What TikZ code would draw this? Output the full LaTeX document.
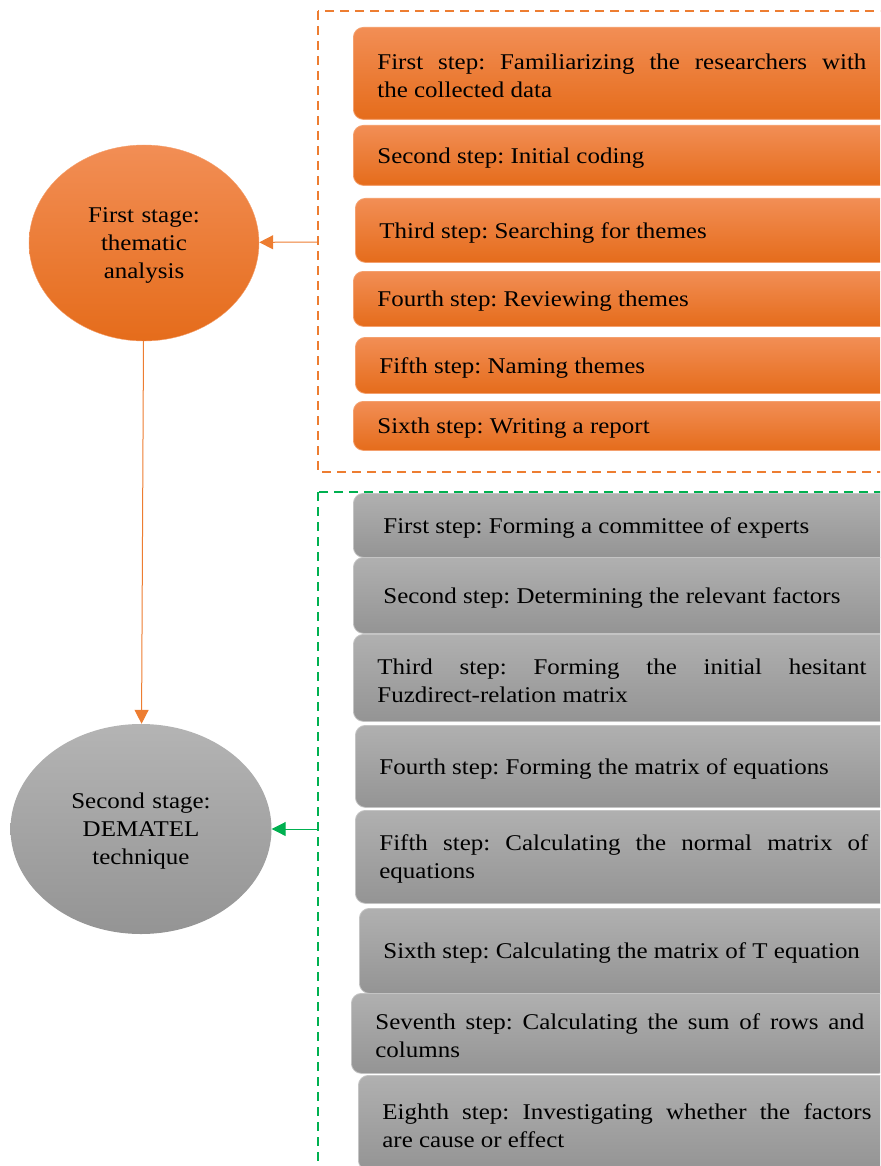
\documentclass[tikz,border=0pt]{standalone}
\usepackage{fontspec}
\setmainfont{Liberation Serif}[FakeStretch=1.11]
\usetikzlibrary{shapes.geometric,arrows.meta}
\definecolor{stageorange}{RGB}{237,125,49}
\definecolor{stagegreen}{RGB}{0,176,80}
\definecolor{orangetop}{RGB}{242,142,85}
\definecolor{orangebot}{RGB}{229,108,27}
\definecolor{orangeedge}{RGB}{244,160,110}
\definecolor{greytop}{RGB}{176,176,176}
\definecolor{greybot}{RGB}{148,148,148}
\definecolor{greyedge}{RGB}{196,196,196}
\frenchspacing
\begin{document}
\begin{tikzpicture}[x=1pt,y=-1pt]
        \tikzset{stepbox/.style = {rectangle, rounded corners=10pt, anchor=north west,
            text width=489pt, inner xsep=24pt, inner ysep=2pt, align=justify,
            font=\fontsize{22.5}{28}\selectfont, execute at end node={\par\vspace*{-5pt}}}}
        \tikzset{orangestep/.style = {stepbox, top color=orangetop, bottom color=orangebot, draw=orangeedge, line width=0.8pt}}
        \tikzset{greystep/.style = {stepbox, top color=greytop, bottom color=greybot, draw=greyedge, line width=0.8pt}}
        \tikzset{stage/.style = {ellipse, text width=150pt, inner sep=2pt, align=center, font=\fontsize{22.5}{28}\selectfont,
            execute at end node={\par\vspace*{-5pt}}}}
        \tikzset{link/.style = {line width=1pt, -{Triangle[length=14pt,width=14pt]}}}
        \useasboundingbox (0,0) rectangle (880,1166);
        \clip (0,0) rectangle (880,1166);
        % dashed frames
        \draw[stageorange, line width=2pt, dash pattern=on 9pt off 6pt] (318,11) rectangle (900,472);
        \draw[stagegreen, line width=2pt, dash pattern=on 9pt off 6pt] (318,492) rectangle (900,1190);
        \coordinate (thema) at (318,242);
        \coordinate (dema) at (318,829);
        % stages on the left
        \node[stage, minimum width=230pt, minimum height=196pt, top color=orangetop, bottom color=orangebot, draw=orangeedge] (s1) at (144,243) {First stage:\\thematic\\analysis};
        \node[stage, minimum width=261pt, minimum height=210pt, top color=greytop!95!white, bottom color=greybot] (s2) at (141,829) {Second stage:\\DEMATEL\\technique};
        % steps of the thematic analysis
        \node[orangestep, minimum height=92pt] (o1) at (353,27) {First step: Familiarizing the researchers with\linebreak the collected data};
        \node[orangestep, minimum height=60pt] (o2) at (353,125) {Second step: Initial coding};
        \node[orangestep, minimum height=64pt] (o3) at (355,198) {Third step: Searching for themes};
        \node[orangestep, minimum height=55pt] (o4) at (353,271) {Fourth step: Reviewing themes};
        \node[orangestep, minimum height=56pt] (o5) at (355,337) {Fifth step: Naming themes};
        \node[orangestep, minimum height=49pt] (o6) at (353,401) {Sixth step: Writing a report};
        % steps of the DEMATEL technique
        \node[greystep, minimum height=64pt, inner xsep=30pt] (g1) at (353,493) {First step: Forming a committee of experts};
        \node[greystep, minimum height=76pt, inner xsep=30pt] (g2) at (353,557) {Second step: Determining the relevant factors};
        \node[greystep, minimum height=87pt] (g3) at (353,634) {Third step: Forming the initial hesitant\linebreak Fuzdirect-relation matrix};
        \node[greystep, minimum height=82pt] (g4) at (355,725) {Fourth step: Forming the matrix of equations};
        \node[greystep, minimum height=93pt] (g5) at (355,810) {Fifth step: Calculating the normal matrix of\linebreak equations};
        \node[greystep, minimum height=85pt] (g6) at (359,908) {Sixth step: Calculating the matrix of T equation};
        \node[greystep, minimum height=80pt] (g7) at (351,993) {Seventh step: Calculating the sum of rows and\linebreak columns};
        \node[greystep, minimum height=95pt] (g8) at (358,1075) {Eighth step: Investigating whether the factors\linebreak are cause or effect};
        % arrows
        \draw[link, stageorange] (thema) -- (s1);
        \draw[link, stageorange] (s1) -- (s2);
        \draw[link, stagegreen] (dema) -- (s2);
\end{tikzpicture}
\end{document}
